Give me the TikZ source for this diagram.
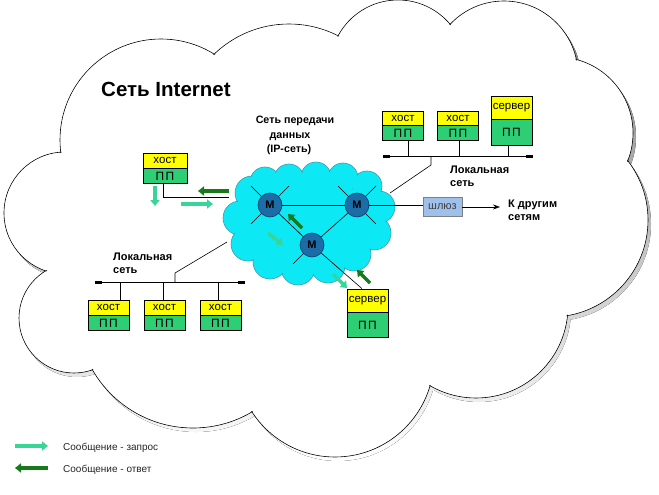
\documentclass[tikz,border=0pt]{standalone}
\usepackage{fontspec}
\setmainfont{Liberation Sans}
\usetikzlibrary{arrows.meta}
\definecolor{cyanc}{RGB}{12,232,244}
\definecolor{cyanedge}{RGB}{70,150,170}
\definecolor{ylw}{RGB}{255,255,0}
\definecolor{grn}{RGB}{46,206,116}
\definecolor{reqc}{RGB}{56,214,150}
\definecolor{respc}{RGB}{22,122,26}
\definecolor{rtr}{RGB}{28,108,168}
\definecolor{rtredge}{RGB}{15,60,100}
\definecolor{gwfill}{RGB}{160,192,236}
\definecolor{shade}{RGB}{128,128,128}
\newcommand{\bigcloudcircles}[1]{%
  \foreach \cx/\cy/\r in {65/213/61, 161/140/101, 289/132/108, 398/68/68, 504/75/74, 557/133/76, 551/220/97, 476/306/92, 335/358/99, 193/312/116, 74/318/55}
  {(\cx,\cy) circle ({\r-#1})}}
\newcommand{\bigcloudpoly}{(75,175) -- (230,85) -- (340,55) -- (445,40) -- (570,75) -- (600,190) -- (560,305) -- (435,375) -- (250,400) -- (105,360) -- (55,270) -- cycle}
\newcommand{\ipcircles}[1]{%
  \foreach \cx/\cy/\r in {252/193/17, 240/218/17, 248/244/17, 270/262/17, 298/268/17, 328/266/17, 354/254/17, 374/233/17, 379/207/16, 367/186/15, 343/178/15, 316/177/15, 289/179/15, 265/182/15}
  {(\cx,\cy) circle ({\r-#1})}}
\begin{document}
\begin{tikzpicture}[x=1pt,y=-1pt,
  ybox/.style={draw, line width=0.7pt, fill=ylw, inner sep=0pt, minimum width=41pt, font=\fontsize{11.5}{11.5}\selectfont},
  gbox/.style={draw, line width=0.7pt, fill=grn, inner sep=0pt, minimum width=41pt, anchor=north, font=\fontsize{12}{12}\selectfont\addfontfeatures{LetterSpace=12}},
  router/.style={circle, draw=rtredge, line width=0.6pt, fill=rtr, minimum size=24pt, inner sep=0pt, font=\bfseries\fontsize{11}{11}\selectfont},
  reqarrow/.style={draw=reqc, line width=3.5pt, -{Triangle[width=9pt,length=6pt]}},
  resparrow/.style={draw=respc, line width=3.5pt, -{Triangle[width=9pt,length=6pt]}},
  lbl/.style={font=\bfseries\fontsize{11}{13}\selectfont, inner sep=0pt, anchor=base west},
  link/.style={line width=0.6pt},
  term/.style={fill=black, minimum width=7pt, minimum height=3pt, inner sep=0pt},
]
\useasboundingbox (0,0) rectangle (659,495);
\fill[white] (0,0) rectangle (659,495);
% big cloud
\begin{scope}[shift={(3,4)}]
  \fill[shade] \bigcloudcircles{0};
  \fill[shade] \bigcloudpoly;
\end{scope}
\fill[white] \bigcloudcircles{0};
\draw[line width=0.6pt] \bigcloudcircles{0};
\fill[white] \bigcloudcircles{0.9};
\fill[white] \bigcloudpoly;
% IP cloud
\fill[cyanc] \ipcircles{0};
\draw[cyanedge, line width=0.6pt] \ipcircles{0};
\fill[cyanc] \ipcircles{0.8};
\fill[cyanc] (308,222) ellipse (65 and 45);

% texts
\node[font=\bfseries\fontsize{20.5}{24}\selectfont, anchor=base west, inner sep=0pt] (title) at (101,96) {Сеть Internet};
\node[font=\bfseries\fontsize{10.7}{13}\selectfont, anchor=base, inner sep=0pt] (ip1) at (295,124) {Сеть передачи};
\node[font=\bfseries\fontsize{10.7}{13}\selectfont, anchor=base, inner sep=0pt] (ip2) at (290,138) {данных};
\node[font=\bfseries\fontsize{10.7}{13}\selectfont, anchor=base, inner sep=0pt] (ip3) at (289,152) {(IP-сеть)};
\node[lbl] (tl1t) at (450,173) {Локальная};
\node[lbl] (tl2t) at (450,186) {сеть};
\node[lbl] (bl1t) at (113,260) {Локальная};
\node[lbl] (bl2t) at (113,273) {сеть};
\node[lbl] (ot1) at (508,207) {К другим};
\node[lbl] (ot2) at (508,220) {сетям};

% routers
\node[router] (m1) at (270,205) {M};
\node[router] (m2) at (357,205) {M};
\node[router] (m3) at (312,245) {M};
\coordinate (s11) at (251,186); \coordinate (s12) at (289,186); \coordinate (s13) at (251,224);
\coordinate (s21) at (338,186); \coordinate (s22) at (376,186); \coordinate (s23) at (376,224);
\coordinate (s31) at (293,264);
\draw[link] (m1) -- (m2);
\draw[link] (m1) -- (m3);
\draw[link] (m2) -- (m3);
\foreach \a/\b in {m1/s11, m1/s12, m1/s13, m2/s21, m2/s22, m2/s23, m3/s31} \draw[link] (\a) -- (\b);

% left host
\node[ybox, minimum width=44pt, minimum height=15pt] (lhy) at (165,160.5) {хост};
\node[gbox, minimum width=44pt, minimum height=15pt] (lhg) at (lhy.south) {ПП};
\coordinate (lhc) at (229,197);
\draw[link] ([xshift=-2pt]lhg.south) |- (lhc);

% bottom LAN
\coordinate (bl1) at (95,282); \coordinate (bl2) at (245,282);
\draw[link] (bl1) -- (bl2);
\node[term, anchor=west] (bt1) at (bl1) {};
\node[term, anchor=east] (bt2) at (bl2) {};
\node[ybox, minimum height=15pt] (bh1y) at (108.5,307.5) {хост};
\node[gbox, minimum height=15pt] (bh1g) at (bh1y.south) {ПП};
\node[ybox, minimum height=15pt] (bh2y) at (164.5,307.5) {хост};
\node[gbox, minimum height=15pt] (bh2g) at (bh2y.south) {ПП};
\node[ybox, minimum height=15pt] (bh3y) at (220.5,307.5) {хост};
\node[gbox, minimum height=15pt] (bh3g) at (bh3y.south) {ПП};
\draw[link] ([xshift=11.5pt]bh1y.north) -- ([xshift=11.5pt]bh1y.north |- bl1);
\draw[link] ([xshift=-1.5pt]bh2y.north) -- ([xshift=-1.5pt]bh2y.north |- bl1);
\draw[link] ([xshift=-2.5pt]bh3y.north) -- ([xshift=-2.5pt]bh3y.north |- bl1);
\coordinate (bu1) at (175,282); \coordinate (bu2) at (175,273); \coordinate (bu3) at (227,242);
\draw[link] (bu1) -- (bu2) -- (bu3);

% top LAN
\coordinate (tl1) at (383,156); \coordinate (tl2) at (533,156);
\draw[link] (tl1) -- (tl2);
\node[term, anchor=west] (tt1) at (tl1) {};
\node[term, anchor=east] (tt2) at (tl2) {};
\node[ybox, minimum height=14pt] (th1y) at (403,118) {хост};
\node[gbox, minimum height=15pt] (th1g) at (th1y.south) {ПП};
\node[ybox, minimum height=14pt] (th2y) at (458,118) {хост};
\node[gbox, minimum height=15pt] (th2g) at (th2y.south) {ПП};
\node[ybox, minimum height=23pt] (tsy) at (511.5,107.5) {сервер};
\node[gbox, minimum height=26pt] (tsg) at (tsy.south) {ПП};
\draw[link] ([xshift=5pt]th1g.south) -- ([xshift=5pt]th1g.south |- tl1);
\draw[link] ([xshift=1pt]th2g.south) -- ([xshift=1pt]th2g.south |- tl1);
\draw[link] ([xshift=-3.5pt]tsg.south) -- ([xshift=-3.5pt]tsg.south |- tl1);
\coordinate (tu1) at (431,156); \coordinate (tu2) at (431,165); \coordinate (tu3) at (390,193);
\draw[link] (tu1) -- (tu2) -- (tu3);

% bottom server
\node[ybox, minimum height=23pt] (bsy) at (367.5,300.5) {сервер};
\node[gbox, minimum height=25pt] (bsg) at (bsy.south) {ПП};
\coordinate (bsin) at ([xshift=-5.5pt]bsy.north);
\draw[link] (m3) -- (bsin);

% gateway
\node[draw=gray, line width=0.7pt, fill=gwfill, minimum width=39pt, minimum height=19pt, inner sep=0pt, text=black!75, font=\fontsize{11}{11}\selectfont] (gw) at (442.5,207) {шлюз};
\coordinate (kx) at (500,207);
\draw[link] (m2) -- (m2 -| gw.west);
\draw[link, -{Stealth[length=7pt,width=5pt]}] (gw.east) -- (kx);

% message arrows
\draw[resparrow] (229,191) -- (198,191);
\draw[reqarrow] (181,204) -- (213,204);
\draw[reqarrow] (155,186) -- (155,206);
\draw[resparrow] (302,228) -- (288,214);
\draw[reqarrow] (268,233) -- (283,245);
\draw[reqarrow] (333,274) -- (347,288);
\draw[resparrow] (370,283) -- (357,270);

% legend
\draw[reqarrow] (15,446) -- (48,446);
\draw[resparrow] (48,468) -- (15,468);
\node[font=\fontsize{10}{12}\selectfont, anchor=base west, inner sep=0pt, text=black!85] (lg1) at (63,450) {Сообщение - запрос};
\node[font=\fontsize{10}{12}\selectfont, anchor=base west, inner sep=0pt, text=black!85] (lg2) at (63,472) {Сообщение - ответ};
\end{tikzpicture}
\end{document}
